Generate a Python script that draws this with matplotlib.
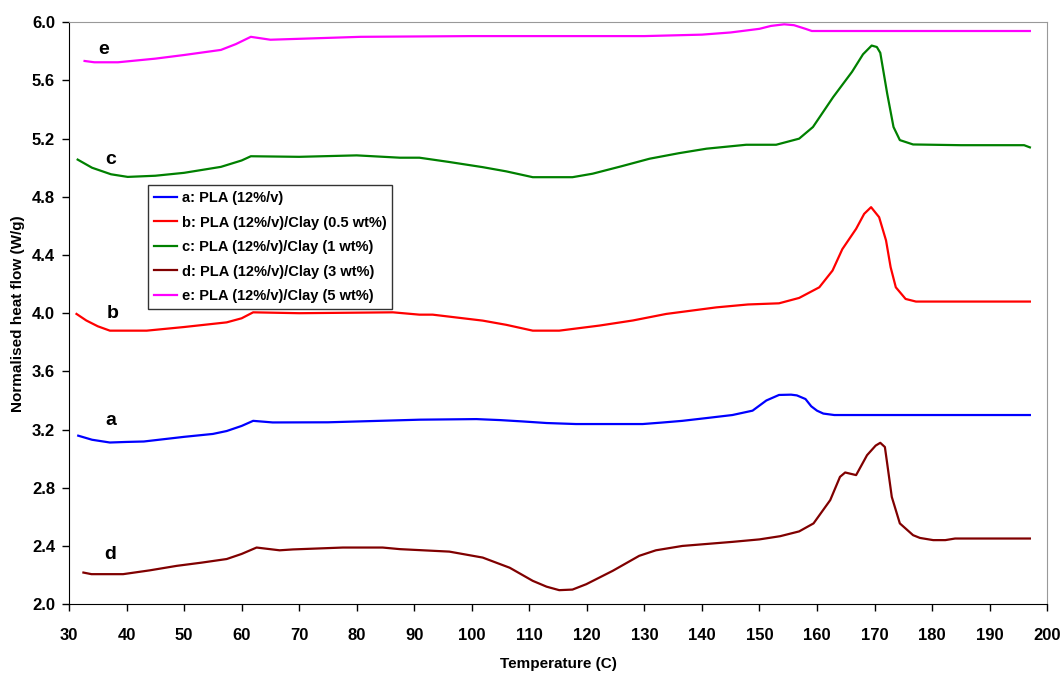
import numpy as np
import matplotlib
matplotlib.use('Agg')
import matplotlib.pyplot as plt

plt.rcParams['font.family'] = ['Liberation Sans', 'DejaVu Sans']
plt.rcParams['font.weight'] = 'bold'

# a: PLA (12%/v)
t_a = [31.6, 34, 37.1, 40, 43, 50, 55, 57.4, 60, 62, 65.4, 75, 87.5, 91, 100.8, 105,
       108.8, 113, 118.1, 129.7, 133, 136.6, 141, 145.3, 148.8, 151.2, 153.4, 155.5,
       156.5, 158, 159, 160, 161.1, 163, 197]
v_a = [3.158, 3.13, 3.111, 3.115, 3.118, 3.15, 3.17, 3.19, 3.225, 3.26, 3.249, 3.25,
       3.264, 3.268, 3.272, 3.265, 3.256, 3.245, 3.238, 3.238, 3.248, 3.26, 3.28, 3.30,
       3.33, 3.40, 3.438, 3.44, 3.435, 3.41, 3.36, 3.33, 3.31, 3.30, 3.30]

# b: PLA (12%/v)/Clay (0.5 wt%)
t_b = [31.3, 33, 35, 37.1, 43.5, 50, 57.4, 60, 62, 70, 86.3, 90.9, 93.2, 101.9, 106,
       110.6, 115.2, 122.2, 128, 133.8, 142.5, 148, 153.4, 156.9, 160.4, 162.7, 164.4,
       166.8, 168.2, 169.4, 170.8, 172, 172.8, 173.7, 175.4, 177.2, 197]
v_b = [3.995, 3.95, 3.91, 3.88, 3.88, 3.905, 3.937, 3.965, 4.006, 4.0, 4.006, 3.99,
       3.99, 3.949, 3.92, 3.88, 3.88, 3.915, 3.95, 3.995, 4.04, 4.06, 4.068, 4.105,
       4.178, 4.293, 4.44, 4.58, 4.683, 4.729, 4.66, 4.50, 4.316, 4.178, 4.098, 4.08, 4.08]

# c: PLA (12%/v)/Clay (1 wt%)
t_c = [31.5, 34, 37.3, 40.2, 45, 50, 56.4, 60, 61.6, 70, 80, 87.5, 90.9, 96, 101.9,
       106, 110.6, 117.5, 121, 126, 130.9, 136, 140.8, 147.7, 152.9, 156.9, 159.3,
       162.8, 166.1, 168, 169.5, 170.4, 171, 172.2, 173.3, 174.4, 176.7, 185, 196, 197]
v_c = [5.056, 5.0, 4.955, 4.937, 4.945, 4.965, 5.006, 5.05, 5.079, 5.075, 5.085, 5.069,
       5.069, 5.04, 5.004, 4.975, 4.935, 4.935, 4.959, 5.01, 5.062, 5.1, 5.131, 5.158,
       5.158, 5.2, 5.28, 5.485, 5.66, 5.78, 5.84, 5.83, 5.79, 5.51, 5.28, 5.19, 5.16,
       5.155, 5.155, 5.14]

# d: PLA (12%/v)/Clay (3 wt%)
t_d = [32.5, 33.9, 39.4, 44, 48.7, 53, 57.4, 60, 62.6, 66.6, 68.9, 77.6, 84.5, 87.5,
       96.1, 101.9, 106.6, 110.6, 113, 115.2, 117.5, 119.9, 124.5, 129.1, 132, 136.6,
       145.3, 150, 153.6, 156.9, 159.4, 162.3, 164, 164.9, 166.8, 168.7, 170.2, 171.0,
       171.8, 172.2, 173.0, 174.4, 176.7, 177.9, 180.2, 182.3, 184, 197]
v_d = [2.217, 2.206, 2.206, 2.232, 2.263, 2.285, 2.31, 2.345, 2.389, 2.37, 2.376, 2.389,
       2.389, 2.378, 2.361, 2.32, 2.25, 2.16, 2.12, 2.096, 2.10, 2.137, 2.229, 2.332,
       2.37, 2.40, 2.428, 2.445, 2.467, 2.50, 2.555, 2.715, 2.875, 2.905, 2.887, 3.024,
       3.09, 3.109, 3.08, 2.967, 2.737, 2.555, 2.474, 2.455, 2.44, 2.44, 2.451, 2.451]

# e: PLA (12%/v)/Clay (5 wt%)
t_e = [32.7, 34.4, 38.5, 45, 50, 56.4, 59, 61.6, 65, 80.7, 100, 130, 140, 145, 150,
       152, 154.3, 156, 158, 159.1, 197]
v_e = [5.734, 5.725, 5.725, 5.75, 5.775, 5.81, 5.85, 5.90, 5.88, 5.90, 5.905, 5.905,
       5.915, 5.93, 5.955, 5.975, 5.986, 5.98, 5.955, 5.94, 5.94]

series = [
    (t_a, v_a, '#0000FF', 'a: PLA (12%/v)'),
    (t_b, v_b, '#FF0000', 'b: PLA (12%/v)/Clay (0.5 wt%)'),
    (t_c, v_c, '#008000', 'c: PLA (12%/v)/Clay (1 wt%)'),
    (t_d, v_d, '#800000', 'd: PLA (12%/v)/Clay (3 wt%)'),
    (t_e, v_e, '#FF00FF', 'e: PLA (12%/v)/Clay (5 wt%)'),
]

curve_tags = ['a', 'b', 'c', 'd', 'e']
tag_x = [37.3, 37.5, 37.3, 37.1, 36.0]
tag_y = [3.26, 4.0, 5.06, 2.34, 5.81]

fig = plt.figure(figsize=(10.62, 6.75), dpi=100)
ax = fig.add_axes([0.065, 0.105, 0.921, 0.862])

for t, v, col, lab in series:
    ax.plot(t, v, color=col, lw=1.6, label=lab)

for s, x, y in zip(curve_tags, tag_x, tag_y):
    ax.text(x, y, s, fontsize=14, fontweight='bold', ha='center', va='center')

ax.set_xlim(30, 200)
ax.set_ylim(2.0, 6.0)
ax.set_xticks(np.arange(30, 201, 10))
ax.set_yticks(np.arange(2.0, 6.01, 0.4))
ax.set_yticklabels([f'{y:.1f}' for y in np.arange(2.0, 6.01, 0.4)])
ax.tick_params(direction='out', length=5, width=1, labelsize=12)
ax.tick_params(axis='x', pad=12)
ax.tick_params(axis='y', pad=5)
for lbl in ax.get_xticklabels() + ax.get_yticklabels():
    lbl.set_fontweight('bold')

for side in ['top', 'right']:
    ax.spines[side].set_color('#999999')
for side in ['left', 'bottom']:
    ax.spines[side].set_color('black')

ax.set_xlabel('Temperature (C)', fontsize=11, fontweight='bold', labelpad=10)
ax.set_ylabel('Normalised heat flow (W/g)', fontsize=11, fontweight='bold', labelpad=5)

leg = ax.legend(loc='upper left', bbox_to_anchor=(0.081, 0.72), fontsize=10.5,
                frameon=True, fancybox=False, edgecolor='black', handlelength=1.6,
                handletextpad=0.3, labelspacing=0.72, borderpad=0.4, borderaxespad=0)
leg.get_frame().set_linewidth(1.0)
for txt in leg.get_texts():
    txt.set_fontweight('bold')

fig.savefig('out.png', dpi=100)
